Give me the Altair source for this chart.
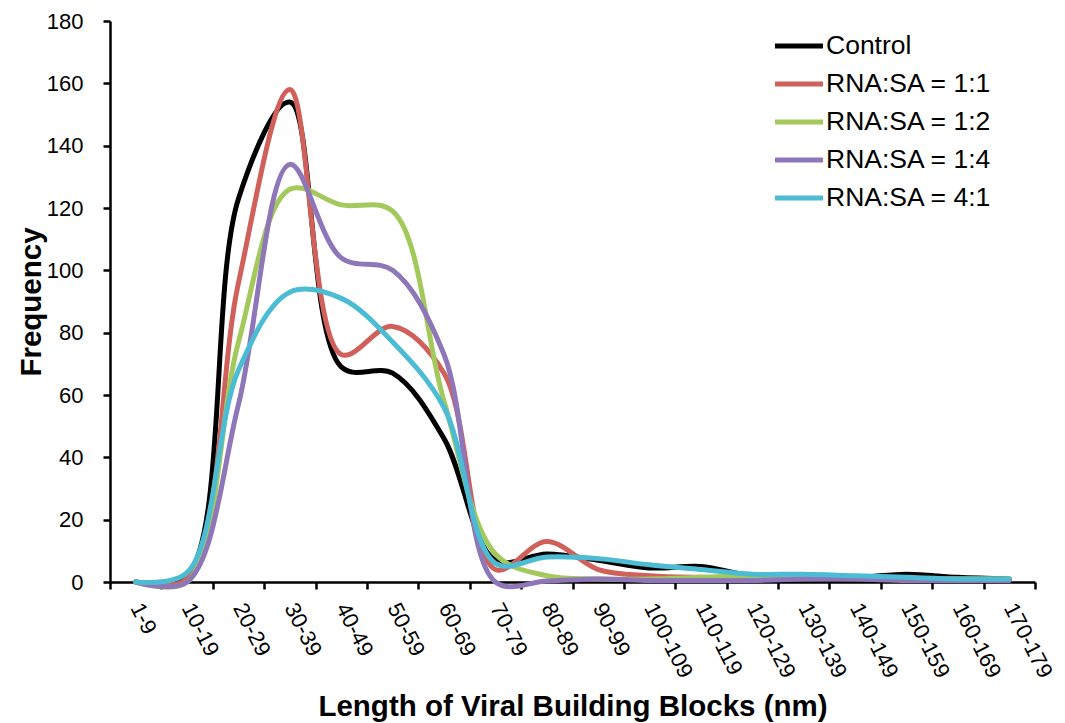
import altair as alt
import pandas as pd

categories = ["1-9", "10-19", "20-29", "30-39", "40-49", "50-59", "60-69", "70-79",
              "80-89", "90-99", "100-109", "110-119", "120-129", "130-139",
              "140-149", "150-159", "160-169", "170-179"]

series_names = ["Control", "RNA:SA = 1:1", "RNA:SA = 1:2", "RNA:SA = 1:4", "RNA:SA = 4:1"]

control = [0, 2, 123, 154, 69, 67, 46, 7, 9, 7, 4.5, 5, 2, 2, 1.5, 2.5, 1.5, 1]
rna_1_1 = [0, 1, 96, 158, 73, 82, 67, 4, 13, 4, 2, 1.5, 1.5, 1.5, 1.5, 1, 1, 1]
rna_1_2 = [0, 0, 77, 126, 121, 119, 58, 9, 2, 1, 1, 1.5, 2, 2, 1.5, 1, 1, 1]
rna_1_4 = [0, 0, 57, 134, 104, 100, 73, 0, 0.3, 1, 0.5, 0.5, 0.5, 1, 1, 0.5, 0.5, 0.5]
rna_4_1 = [0, 3, 68, 93, 91, 77, 56, 6, 8, 7.5, 5.5, 4, 2.5, 2.5, 2, 1.5, 1, 1]

colors = ["#000000", "#D0605A", "#A3C85C", "#8E76B8", "#4BBCD3"]

rows = []
for name, vals in zip(series_names, [control, rna_1_1, rna_1_2, rna_1_4, rna_4_1]):
    for i, (c, v) in enumerate(zip(categories, vals)):
        rows.append({"pos": i + 0.5, "cat": c, "series": name, "freq": v})
df = pd.DataFrame(rows)

FONT = "Liberation Sans"
n = len(categories)
label_array = "[" + ",".join("'" + c + "'" for c in categories) + "]"

x = alt.X(
    "pos:Q",
    scale=alt.Scale(domain=[0, n], nice=False, zero=False),
    axis=alt.Axis(
        values=[i / 2 for i in range(2 * n + 1)],
        labelExpr="datum.value % 1 === 0 ? '' : " + label_array + "[floor(datum.value)]",
        tickOpacity={"condition": {"test": "datum.value % 1 === 0", "value": 1}, "value": 0},
        labelAngle=63,
        labelAlign="left",
        labelBaseline="middle",
        labelPadding=15,
        labelFontSize=22,
        tickSize=7,
        tickWidth=2.5,
        domainWidth=2.5,
        domainColor="#000000",
        tickColor="#000000",
        labelColor="#000000",
        grid=False,
        labelOverlap=False,
        labelFont=FONT,
        titleFont=FONT,
        titleFontSize=29.5,
        titleFontWeight="bold",
        titleColor="#000000",
        titleY=124,
        titleBaseline="middle",
    ),
    title="Length of Viral Building Blocks (nm)",
)

y = alt.Y(
    "freq:Q",
    scale=alt.Scale(domain=[0, 180], nice=False),
    axis=alt.Axis(
        values=list(range(0, 181, 20)),
        tickSize=7,
        tickWidth=2.5,
        domainWidth=2.5,
        domainColor="#000000",
        tickColor="#000000",
        labelColor="#000000",
        labelPadding=20,
        labelFontSize=22,
        labelFont=FONT,
        grid=False,
        titleFont=FONT,
        titleFontSize=29.5,
        titleFontWeight="bold",
        titleColor="#000000",
        titleX=-64,
        titleBaseline="bottom",
    ),
    title="Frequency",
)

color = alt.Color(
    "series:N",
    sort=series_names,
    scale=alt.Scale(domain=series_names, range=colors),
    legend=alt.Legend(
        title=None,
        orient="none",
        legendX=668,
        legendY=4,
        symbolType="M-1.3,0H1.3",
        symbolSize=1369,
        symbolStrokeWidth=5,
        labelFontSize=26.5,
        labelFont=FONT,
        labelColor="#000000",
        labelOffset=6,
        labelLimit=0,
        rowPadding=3,
    ),
)

layers = [
    alt.Chart(df)
    .transform_filter(alt.datum.series == s)
    .mark_line(interpolate="catmull-rom", strokeWidth=5, strokeCap="round")
    .encode(x=x, y=y, color=color)
    for s in series_names
]

chart = (
    alt.layer(*layers)
    .properties(
        width=925,
        height=561,
        padding={"left": 110, "top": 21, "right": 30, "bottom": 141},
        autosize=alt.AutoSizeParams(type="none"),
        background="white",
    )
    .configure_view(stroke=None)
)

chart.save("out.html", embed_options={"renderer": "svg", "actions": False})
